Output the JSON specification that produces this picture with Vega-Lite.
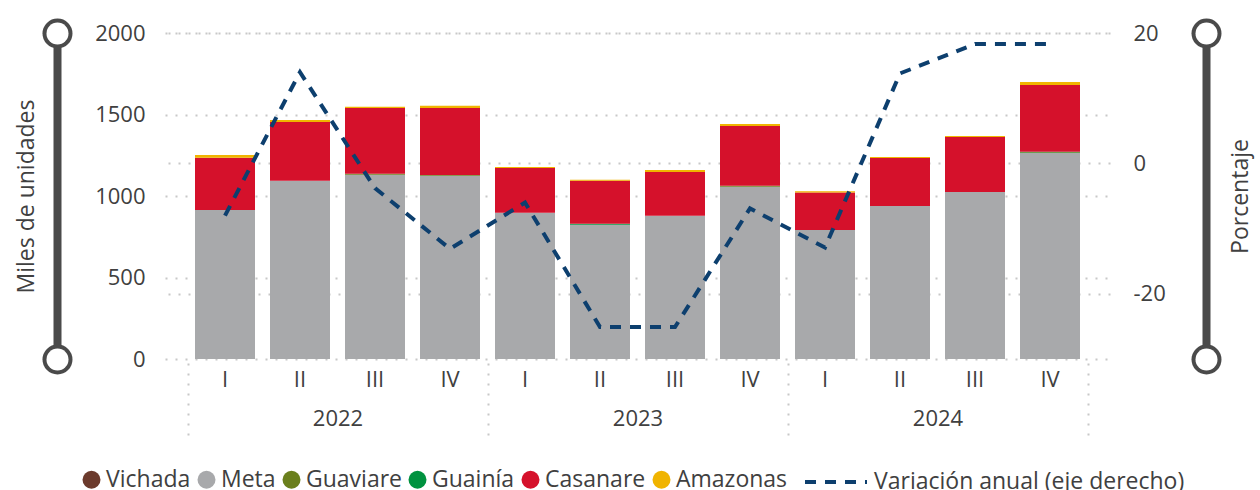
{
  "$schema": "https://vega.github.io/schema/vega-lite/v6.json",
  "width": 945,
  "height": 326,
  "autosize": {"type": "none"},
  "padding": {"left": 165, "top": 33, "right": 150, "bottom": 131},
  "config": {
    "font": "Open Sans",
    "view": {"stroke": null},
    "axis": {"labelFont": "Open Sans", "titleFont": "Open Sans", "labelColor": "#404040", "titleColor": "#404040", "titleFontWeight": "normal"},
    "legend": {"labelFont": "Open Sans", "labelColor": "#404040"}
  },
  "datasets": {
    "barras": [
      {"periodo": "2022-I", "departamento": "Meta", "orden": 2, "valor": 914},
      {"periodo": "2022-I", "departamento": "Casanare", "orden": 5, "valor": 321},
      {"periodo": "2022-I", "departamento": "Amazonas", "orden": 6, "valor": 16},
      {"periodo": "2022-II", "departamento": "Meta", "orden": 2, "valor": 1093},
      {"periodo": "2022-II", "departamento": "Casanare", "orden": 5, "valor": 361},
      {"periodo": "2022-II", "departamento": "Amazonas", "orden": 6, "valor": 12},
      {"periodo": "2022-III", "departamento": "Meta", "orden": 2, "valor": 1131},
      {"periodo": "2022-III", "departamento": "Guaviare", "orden": 3, "valor": 6},
      {"periodo": "2022-III", "departamento": "Casanare", "orden": 5, "valor": 403},
      {"periodo": "2022-III", "departamento": "Amazonas", "orden": 6, "valor": 8},
      {"periodo": "2022-IV", "departamento": "Meta", "orden": 2, "valor": 1125},
      {"periodo": "2022-IV", "departamento": "Guaviare", "orden": 3, "valor": 4},
      {"periodo": "2022-IV", "departamento": "Casanare", "orden": 5, "valor": 411},
      {"periodo": "2022-IV", "departamento": "Amazonas", "orden": 6, "valor": 14},
      {"periodo": "2023-I", "departamento": "Meta", "orden": 2, "valor": 897},
      {"periodo": "2023-I", "departamento": "Casanare", "orden": 5, "valor": 275},
      {"periodo": "2023-I", "departamento": "Amazonas", "orden": 6, "valor": 6},
      {"periodo": "2023-II", "departamento": "Meta", "orden": 2, "valor": 823},
      {"periodo": "2023-II", "departamento": "Guainía", "orden": 4, "valor": 6},
      {"periodo": "2023-II", "departamento": "Casanare", "orden": 5, "valor": 265},
      {"periodo": "2023-II", "departamento": "Amazonas", "orden": 6, "valor": 6},
      {"periodo": "2023-III", "departamento": "Meta", "orden": 2, "valor": 879},
      {"periodo": "2023-III", "departamento": "Casanare", "orden": 5, "valor": 268},
      {"periodo": "2023-III", "departamento": "Amazonas", "orden": 6, "valor": 13},
      {"periodo": "2023-IV", "departamento": "Meta", "orden": 2, "valor": 1057},
      {"periodo": "2023-IV", "departamento": "Guaviare", "orden": 3, "valor": 6},
      {"periodo": "2023-IV", "departamento": "Casanare", "orden": 5, "valor": 366},
      {"periodo": "2023-IV", "departamento": "Amazonas", "orden": 6, "valor": 13},
      {"periodo": "2024-I", "departamento": "Meta", "orden": 2, "valor": 791},
      {"periodo": "2024-I", "departamento": "Casanare", "orden": 5, "valor": 231},
      {"periodo": "2024-I", "departamento": "Amazonas", "orden": 6, "valor": 7},
      {"periodo": "2024-II", "departamento": "Meta", "orden": 2, "valor": 939},
      {"periodo": "2024-II", "departamento": "Casanare", "orden": 5, "valor": 294},
      {"periodo": "2024-II", "departamento": "Amazonas", "orden": 6, "valor": 6},
      {"periodo": "2024-III", "departamento": "Meta", "orden": 2, "valor": 1025},
      {"periodo": "2024-III", "departamento": "Casanare", "orden": 5, "valor": 337},
      {"periodo": "2024-III", "departamento": "Amazonas", "orden": 6, "valor": 6},
      {"periodo": "2024-IV", "departamento": "Meta", "orden": 2, "valor": 1264},
      {"periodo": "2024-IV", "departamento": "Guaviare", "orden": 3, "valor": 5},
      {"periodo": "2024-IV", "departamento": "Guainía", "orden": 4, "valor": 3},
      {"periodo": "2024-IV", "departamento": "Casanare", "orden": 5, "valor": 409},
      {"periodo": "2024-IV", "departamento": "Amazonas", "orden": 6, "valor": 18}
    ],
    "variacion": [
      {"periodo": "2022-I", "variacion": -8.0},
      {"periodo": "2022-II", "variacion": 14.0},
      {"periodo": "2022-III", "variacion": -3.8},
      {"periodo": "2022-IV", "variacion": -13.1},
      {"periodo": "2023-I", "variacion": -6.0},
      {"periodo": "2023-II", "variacion": -25.1},
      {"periodo": "2023-III", "variacion": -25.1},
      {"periodo": "2023-IV", "variacion": -6.9},
      {"periodo": "2024-I", "variacion": -12.9},
      {"periodo": "2024-II", "variacion": 13.8},
      {"periodo": "2024-III", "variacion": 18.3},
      {"periodo": "2024-IV", "variacion": 18.3}
    ],
    "anios": [{"anio": "2022"}, {"anio": "2023"}, {"anio": "2024"}],
    "extremos": [{"v": 0}, {"v": 1}]
  },
  "layer": [
    {
      "layer": [
        {
          "data": {"name": "barras"},
          "mark": {"type": "bar"},
          "encoding": {
            "x": {
              "field": "periodo", "type": "nominal", "sort": null,
              "scale": {"paddingInner": 0.2, "paddingOuter": 0.4},
              "axis": {"title": null, "labelExpr": "split(datum.value, '-')[1]", "labelAngle": 0, "domain": false, "ticks": false, "labelPadding": 10, "labelFontSize": 22}
            },
            "y": {
              "field": "valor", "type": "quantitative", "stack": "zero",
              "scale": {"domain": [0, 2000]},
              "axis": {"title": "Miles de unidades", "values": [0, 500, 1000, 1500, 2000], "labelExpr": "'' + datum.value", "grid": true, "gridDash": [2, 8], "gridColor": "#c8c8c8", "gridWidth": 2, "domain": false, "ticks": false, "labelPadding": 20, "labelFontSize": 22, "titleFontSize": 23, "titlePadding": 56}
            },
            "order": {"field": "orden", "type": "quantitative"},
            "color": {
              "field": "departamento", "type": "nominal",
              "scale": {"domain": ["Vichada", "Meta", "Guaviare", "Guainía", "Casanare", "Amazonas"], "range": ["#6b3a2c", "#a8a9ab", "#6a7f1c", "#00923f", "#d5112b", "#f0b400"]},
              "legend": {"title": null, "orient": "none", "legendX": -85, "legendY": 435, "direction": "horizontal", "symbolType": "circle", "symbolSize": 324, "labelFontSize": 23, "columnPadding": 4, "labelOffset": 3, "symbolStrokeWidth": 0, "labelLimit": 300}
            }
          }
        },
        {
          "data": {"name": "variacion"},
          "mark": {"type": "line", "strokeWidth": 4, "color": "#0d3f6e"},
          "encoding": {
            "x": {"field": "periodo", "type": "nominal", "sort": null},
            "y": {
              "field": "variacion", "type": "quantitative",
              "scale": {"domain": [-30, 20]},
              "axis": {"orient": "right", "title": "Porcentaje", "values": [-20, 0, 20], "labelExpr": "'' + datum.value", "grid": true, "gridDash": [2, 8], "gridColor": "#c8c8c8", "gridWidth": 2, "domain": false, "ticks": false, "labelPadding": 23, "labelFontSize": 22, "titleFontSize": 23, "titleAngle": 270, "titleBaseline": "top", "titlePadding": 64}
            },
            "strokeDash": {
              "datum": "Variación anual (eje derecho)",
              "scale": {"range": [[11, 9]]},
              "legend": {"title": null, "orient": "none", "legendX": 638, "legendY": 416, "symbolType": "stroke", "symbolSize": 3844, "symbolStrokeWidth": 4, "symbolStrokeColor": "#0d3f6e", "labelFontSize": 23, "labelOffset": 5, "labelLimit": 500}
            }
          }
        }
      ],
      "resolve": {"scale": {"y": "independent"}}
    },
    {
      "data": {"name": "anios"},
      "mark": {"type": "tick", "opacity": 0},
      "encoding": {
        "x": {
          "field": "anio", "type": "nominal",
          "scale": {"paddingInner": 0, "paddingOuter": 0.075},
          "axis": {"orient": "bottom", "title": null, "domain": false, "ticks": true, "tickBand": "extent", "tickSize": 72, "tickColor": "#c8c8c8", "tickWidth": 2, "tickDash": [2, 8], "offset": 4, "labelPadding": -27, "labelFontSize": 22, "labelAngle": 0, "grid": false}
        }
      }
    },
    {
      "data": {"name": "extremos"},
      "mark": {"type": "tick", "opacity": 0},
      "encoding": {
        "y": {"field": "v", "type": "quantitative", "scale": {"domain": [0, 1]},
          "axis": {"orient": "left", "title": null, "labels": false, "grid": false, "values": [0, 1], "offset": 108, "domain": true, "domainColor": "#4a4a4a", "domainWidth": 8, "ticks": true, "tickColor": "#4a4a4a", "tickWidth": 30, "tickCap": "round", "tickSize": 0.01, "zindex": 0}}
      }
    },
    {
      "data": {"name": "extremos"},
      "mark": {"type": "tick", "opacity": 0},
      "encoding": {
        "y": {"field": "v", "type": "quantitative", "scale": {"domain": [0, 1]},
          "axis": {"orient": "left", "title": null, "labels": false, "grid": false, "values": [0, 1], "offset": 108, "domain": false, "ticks": true, "tickColor": "#ffffff", "tickWidth": 22, "tickCap": "round", "tickSize": 0.01, "zindex": 1}}
      }
    },
    {
      "data": {"name": "extremos"},
      "mark": {"type": "tick", "opacity": 0},
      "encoding": {
        "y": {"field": "v", "type": "quantitative", "scale": {"domain": [0, 1]},
          "axis": {"orient": "right", "title": null, "labels": false, "grid": false, "values": [0, 1], "offset": 96, "domain": true, "domainColor": "#4a4a4a", "domainWidth": 8, "ticks": true, "tickColor": "#4a4a4a", "tickWidth": 30, "tickCap": "round", "tickSize": 0.01, "zindex": 0}}
      }
    },
    {
      "data": {"name": "extremos"},
      "mark": {"type": "tick", "opacity": 0},
      "encoding": {
        "y": {"field": "v", "type": "quantitative", "scale": {"domain": [0, 1]},
          "axis": {"orient": "right", "title": null, "labels": false, "grid": false, "values": [0, 1], "offset": 96, "domain": false, "ticks": true, "tickColor": "#ffffff", "tickWidth": 22, "tickCap": "round", "tickSize": 0.01, "zindex": 1}}
      }
    }
  ],
  "resolve": {"scale": {"x": "independent", "y": "independent"}}
}
